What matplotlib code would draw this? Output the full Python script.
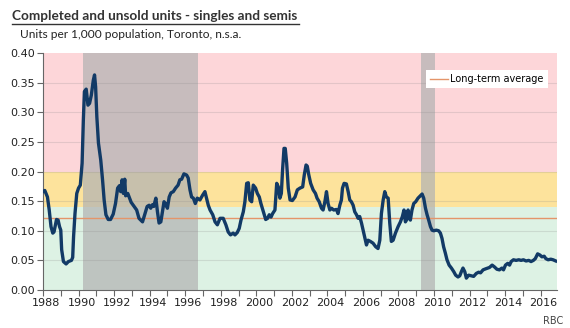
import numpy as np
import matplotlib
matplotlib.use("Agg")
from matplotlib import pyplot as plt
from matplotlib.lines import Line2D
from matplotlib.transforms import ScaledTranslation

plt.rcParams['font.family'] = ['DejaVu Sans']

# completed & unsold singles/semis per 1,000 population (Toronto, n.s.a.)
years = [1988.00, 1988.10, 1988.25, 1988.35, 1988.45, 1988.55, 1988.62, 1988.70, 1988.76, 1988.85,
         1988.93, 1989.00, 1989.05, 1989.15, 1989.30, 1989.43, 1989.60, 1989.67, 1989.72, 1989.80,
         1989.90, 1990.00, 1990.10, 1990.20, 1990.27, 1990.33, 1990.43, 1990.53, 1990.62, 1990.72,
         1990.83, 1990.90, 1990.96, 1991.03, 1991.12, 1991.25, 1991.35, 1991.44, 1991.54, 1991.67,
         1991.80, 1991.95, 1992.08, 1992.20, 1992.30, 1992.37, 1992.45, 1992.52, 1992.60, 1992.65,
         1992.77, 1992.87, 1992.96, 1993.08, 1993.27, 1993.40, 1993.60, 1993.72, 1993.86, 1993.97,
         1994.06, 1994.16, 1994.23, 1994.35, 1994.44, 1994.53, 1994.63, 1994.72, 1994.81, 1994.91,
         1995.00, 1995.10, 1995.20, 1995.33, 1995.46, 1995.60, 1995.70, 1995.80, 1995.93, 1996.08,
         1996.17, 1996.27, 1996.36, 1996.46, 1996.57, 1996.68, 1996.83, 1996.98, 1997.11, 1997.20,
         1997.30, 1997.40, 1997.55, 1997.68, 1997.81, 1997.96, 1998.14, 1998.29, 1998.42, 1998.55,
         1998.70, 1998.80, 1998.93, 1999.04, 1999.14, 1999.27, 1999.36, 1999.46, 1999.55, 1999.64,
         1999.74, 1999.83, 1999.96, 2000.06, 2000.17, 2000.26, 2000.40, 2000.53, 2000.64, 2000.73,
         2000.83, 2000.92, 2001.05, 2001.15, 2001.24, 2001.33, 2001.41, 2001.48, 2001.56, 2001.63,
         2001.71, 2001.80, 2001.90, 2002.03, 2002.18, 2002.31, 2002.46, 2002.61, 2002.70, 2002.80,
         2002.87, 2002.95, 2003.06, 2003.20, 2003.33, 2003.42, 2003.54, 2003.67, 2003.76, 2003.86,
         2003.95, 2004.04, 2004.14, 2004.23, 2004.36, 2004.51, 2004.60, 2004.70, 2004.79, 2004.85,
         2004.94, 2005.07, 2005.17, 2005.26, 2005.35, 2005.45, 2005.54, 2005.64, 2005.73, 2005.82,
         2005.92, 2006.01, 2006.11, 2006.20, 2006.29, 2006.42, 2006.57, 2006.72, 2006.85, 2006.95,
         2007.04, 2007.14, 2007.23, 2007.32, 2007.42, 2007.51, 2007.60, 2007.70, 2007.83, 2007.98,
         2008.11, 2008.22, 2008.31, 2008.39, 2008.45, 2008.54, 2008.60, 2008.67, 2008.76, 2008.86,
         2008.97, 2009.10, 2009.23, 2009.33, 2009.42, 2009.52, 2009.61, 2009.70, 2009.80, 2009.89,
         2009.98, 2010.13, 2010.26, 2010.36, 2010.45, 2010.54, 2010.64, 2010.73, 2010.85, 2010.98,
         2011.11, 2011.22, 2011.35, 2011.45, 2011.54, 2011.63, 2011.73, 2011.82, 2011.95, 2012.10,
         2012.23, 2012.38, 2012.51, 2012.62, 2012.76, 2012.93, 2013.12, 2013.27, 2013.40, 2013.54,
         2013.68, 2013.82, 2013.91, 2014.02, 2014.15, 2014.25, 2014.34, 2014.47, 2014.62, 2014.77,
         2014.90, 2015.03, 2015.18, 2015.33, 2015.46, 2015.59, 2015.70, 2015.83, 2015.96, 2016.07,
         2016.20, 2016.29, 2016.42, 2016.57, 2016.70, 2016.85]
units = [0.166, 0.168, 0.157, 0.135, 0.107, 0.096, 0.098, 0.110, 0.119, 0.118,
         0.107, 0.101, 0.068, 0.048, 0.044, 0.048, 0.050, 0.055, 0.090, 0.129,
         0.163, 0.172, 0.177, 0.214, 0.287, 0.335, 0.339, 0.312, 0.315, 0.329,
         0.354, 0.363, 0.343, 0.292, 0.248, 0.219, 0.186, 0.152, 0.127, 0.119,
         0.119, 0.128, 0.146, 0.172, 0.176, 0.166, 0.186, 0.163, 0.187, 0.159,
         0.163, 0.155, 0.148, 0.143, 0.135, 0.121, 0.115, 0.127, 0.141, 0.143,
         0.138, 0.144, 0.141, 0.155, 0.132, 0.113, 0.115, 0.132, 0.149, 0.145,
         0.138, 0.157, 0.164, 0.166, 0.172, 0.177, 0.186, 0.187, 0.196, 0.194,
         0.189, 0.169, 0.157, 0.155, 0.146, 0.155, 0.152, 0.160, 0.166, 0.155,
         0.143, 0.135, 0.127, 0.115, 0.110, 0.121, 0.121, 0.110, 0.098, 0.093,
         0.096, 0.093, 0.097, 0.104, 0.118, 0.132, 0.149, 0.180, 0.181, 0.152,
         0.149, 0.177, 0.172, 0.163, 0.157, 0.146, 0.132, 0.119, 0.121, 0.127,
         0.123, 0.129, 0.135, 0.180, 0.174, 0.155, 0.163, 0.203, 0.239, 0.239,
         0.214, 0.172, 0.152, 0.151, 0.157, 0.169, 0.172, 0.174, 0.194, 0.211,
         0.209, 0.195, 0.180, 0.169, 0.163, 0.155, 0.149, 0.138, 0.135, 0.149,
         0.166, 0.146, 0.135, 0.138, 0.135, 0.136, 0.129, 0.143, 0.152, 0.172,
         0.180, 0.179, 0.166, 0.152, 0.149, 0.143, 0.132, 0.127, 0.121, 0.124,
         0.113, 0.101, 0.087, 0.076, 0.084, 0.082, 0.079, 0.073, 0.070, 0.084,
         0.129, 0.152, 0.166, 0.157, 0.155, 0.113, 0.082, 0.084, 0.096, 0.107,
         0.115, 0.124, 0.135, 0.115, 0.118, 0.135, 0.121, 0.118, 0.135, 0.146,
         0.149, 0.155, 0.159, 0.162, 0.155, 0.138, 0.127, 0.118, 0.107, 0.101,
         0.100, 0.101, 0.100, 0.096, 0.087, 0.073, 0.062, 0.051, 0.042, 0.037,
         0.031, 0.025, 0.022, 0.024, 0.031, 0.037, 0.031, 0.020, 0.025, 0.024,
         0.023, 0.028, 0.030, 0.029, 0.034, 0.036, 0.038, 0.042, 0.039, 0.035,
         0.034, 0.037, 0.034, 0.042, 0.045, 0.042, 0.048, 0.051, 0.050, 0.051,
         0.050, 0.051, 0.049, 0.050, 0.048, 0.050, 0.053, 0.061, 0.059, 0.056,
         0.057, 0.053, 0.051, 0.052, 0.051, 0.049]

long_term_avg = 0.122
# shaded zones (value ranges) and shaded periods (year ranges)
zones = [(0.0, 0.14, '#ddf2e4'), (0.14, 0.20, '#fde39c'), (0.20, 0.40, '#fdd6d9')]
periods = [(1990.23, 1996.73), (2009.29, 2010.07)]

title = 'Completed and unsold units - singles and semis'
subtitle = 'Units per 1,000 population, Toronto, n.s.a.'


def fit_width(txt, width_px):
    # shrink/grow font so the text spans the wanted pixel width
    fig.canvas.draw()
    w = txt.get_window_extent().width
    txt.set_fontsize(txt.get_fontsize() * width_px / w)


fig = plt.figure(figsize=(5.7, 3.28), dpi=100)
ax = fig.add_axes([43/570, 1 - 290/328, 514/570, 237/328])

for lo, hi, c in zones:
    ax.axhspan(lo, hi, color=c, lw=0, zorder=0)
for start, end in periods:
    ax.axvspan(start, end, color='#b3b3b3', alpha=0.72, lw=0, zorder=1)
for v in np.arange(0.05, 0.40, 0.05):
    ax.axhline(v, color='#888888', alpha=0.22, lw=0.8, zorder=1.5)

ax.axhline(long_term_avg, color='#e4956a', lw=1.0, zorder=2, label='Long-term average')
ax.plot(years, units, color='#123a66', lw=2.4, solid_joinstyle='round', zorder=3)

ax.set_xlim(1988, 2016.92)
ax.set_ylim(0, 0.40)
ax.set_yticks(np.arange(0, 0.401, 0.05))
ax.yaxis.set_major_formatter(plt.FormatStrFormatter('%.2f'))
ax.set_xticks(range(1988, 2017, 2))
ax.set_xticks(range(1988, 2017), minor=True)
ax.tick_params(axis='both', which='both', direction='out', length=4, width=0.8,
               color='#666666', labelsize=8, labelcolor='#222222', pad=2)
for lab in ax.get_xticklabels():
    lab.set_transform(lab.get_transform() + ScaledTranslation(3/100, 0, fig.dpi_scale_trans))
for side in ['top', 'right']:
    ax.spines[side].set_visible(False)
for side in ['left', 'bottom']:
    ax.spines[side].set_color('#666666')
    ax.spines[side].set_linewidth(0.8)

leg = ax.legend(loc='upper right', bbox_to_anchor=(0.982, 0.928), borderaxespad=0,
                fontsize=7, frameon=True, fancybox=False, framealpha=1,
                handlelength=1.8, handletextpad=0.3, borderpad=0.4)
leg.get_frame().set_edgecolor('white')
leg.get_frame().set_linewidth(0)

t = fig.text(12/570, 1 - 20/328, title, fontsize=11, fontweight='bold',
             color='#333333', va='baseline', family='Lato')
s = fig.text(20/570, 1 - 37.5/328, subtitle, fontsize=7.5, color='#222222',
             va='baseline', family='Lato')
fit_width(t, 285)
fit_width(s, 218)
fig.canvas.draw()
bb = t.get_window_extent()
fig.add_artist(Line2D([bb.x0 / 570, (bb.x1 + 2) / 570], [1 - 23.5/328, 1 - 23.5/328],
                      color='#333333', lw=1.0))
fig.text(563/570, 1 - 324/328, 'RBC', fontsize=7, color='#444444', ha='right', va='baseline')

fig.savefig('out.png', dpi=100)
